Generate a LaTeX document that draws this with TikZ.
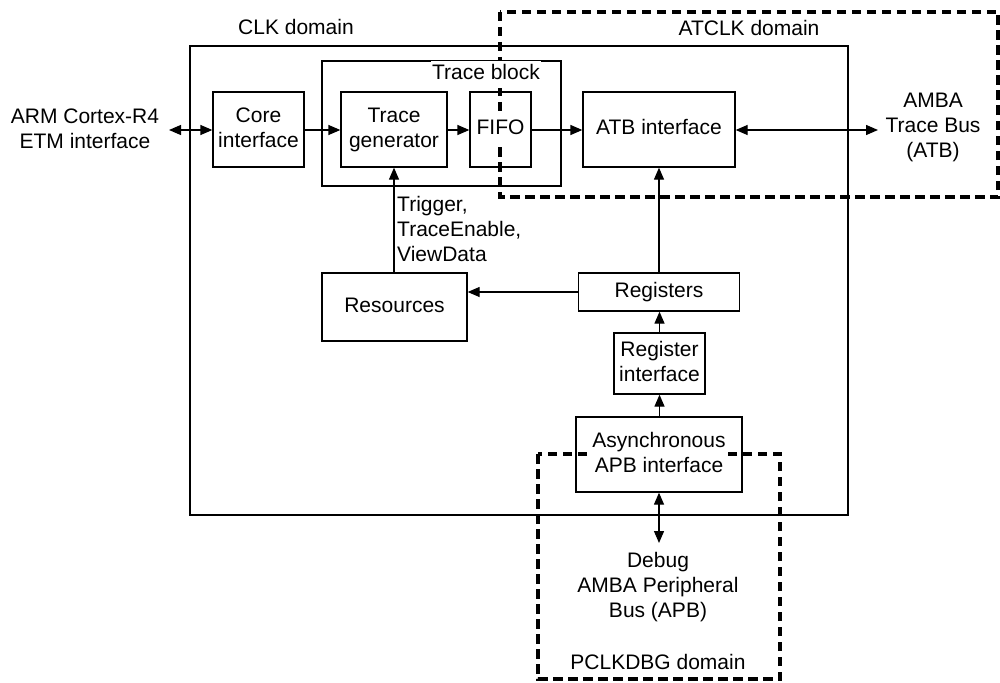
\documentclass[tikz,border=0pt]{standalone}
\usepackage{fontspec}
\setmainfont{Liberation Sans}
\usetikzlibrary{arrows.meta}
% white patch behind box text so dashed domain borders stop at the words
\newcommand{\wb}[1]{{\setlength{\fboxsep}{1pt}\colorbox{white}{\begin{tabular}{@{}c@{}}#1\end{tabular}}}}
\begin{document}
\begin{tikzpicture}[x=1pt,y=-1pt,
  every node/.style={font=\fontsize{21}{25}\selectfont},
  blk/.style={draw,line width=1.3pt,inner sep=0pt,align=center},
  frame/.style={draw,line width=1.3pt},
  clkborder/.style={draw,line width=3.1pt,dash pattern=on 9.5pt off 5.5pt},
  lbl/.style={inner sep=0pt,align=center},
  conn/.style={line width=1.3pt,-{Triangle[length=12pt,width=10pt]}},
  biconn/.style={line width=1.3pt,{Triangle[length=12pt,width=10pt]}-{Triangle[length=12pt,width=10pt]}}]
\useasboundingbox (0,0) rectangle (1000,682);
\renewcommand{\arraystretch}{1.0}
\setlength{\tabcolsep}{0pt}

% CLK domain and trace block frames
\draw[frame] (190,46) rectangle (848,515);
\draw[frame] (322,61) rectangle (561,186);
\node[lbl] (clklbl) at (296,27) {CLK domain};

% clock domain borders
\draw[clkborder] (500,12) rectangle (998,197);
\draw[clkborder] (538,454) rectangle (780,679);
\node[lbl] (atclklbl) at (749,28) {ATCLK domain};
\node[lbl] (pclklbl) at (658,662) {PCLKDBG domain};
\node[lbl,anchor=east] (tblbl) at (541,75) {\wb{Trace block}};

% functional blocks
\node[blk,minimum width=91pt,minimum height=75pt] (core) at (258.5,129.5) {\wb{Core\\interface}};
\node[blk,minimum width=106pt,minimum height=75pt] (tgen) at (394,129.5) {\wb{Trace\\generator}};
\node[blk,minimum width=61pt,minimum height=75pt] (fifo) at (500.5,129.5) {\wb{FIFO}};
\node[blk,minimum width=152pt,minimum height=75pt] (atb) at (659,129.5) {\wb{ATB interface}};
\node[blk,minimum width=145pt,minimum height=68pt] (res) at (394.5,307) {\wb{Resources}};
\node[blk,minimum width=161pt,minimum height=38pt] (regs) at (659,292) {\wb{Registers}};
\node[blk,minimum width=91pt,minimum height=61pt] (regif) at (659.5,363.5) {\wb{Register\\interface}};
\node[blk,minimum width=166pt,minimum height=75pt] (async) at (659,454.5) {\wb{Asynchronous\\APB interface}};

% external interfaces
\node[lbl] (etm) at (85,128.5) {ARM Cortex-R4\\ETM interface};
\node[lbl] (atbbus) at (933,127) {AMBA\\Trace Bus\\(ATB)};
\node[lbl] (apbbus) at (658,587) {Debug\\AMBA Peripheral\\Bus (APB)};
\node[lbl,anchor=west,align=left] (trig) at (397,229) {Trigger,\\TraceEnable,\\ViewData};

\coordinate (etmend) at (169,130);
\coordinate (atbend) at (878,130);
\coordinate (apbend) at (659,543);

% connections
\draw[biconn] (etmend) -- (core.west |- etmend);
\draw[conn] (core.east |- etmend) -- (tgen.west |- etmend);
\draw[conn] (tgen.east |- etmend) -- (fifo.west |- etmend);
\draw[conn] (fifo.east |- etmend) -- (atb.west |- etmend);
\draw[biconn] (atb.east |- atbend) -- (atbend);
\draw[conn] (res.north -| tgen.south) -- (tgen.south);
\draw[conn] (regs.west) -- (regs.west -| res.east);
\draw[conn] (regs.north) -- (atb.south);
\draw[conn] (regif.north) -- (regs.south -| regif.north);
\draw[conn] (async.north -| regif.south) -- (regif.south);
\draw[biconn] (async.south) -- (apbend);
\end{tikzpicture}
\end{document}
